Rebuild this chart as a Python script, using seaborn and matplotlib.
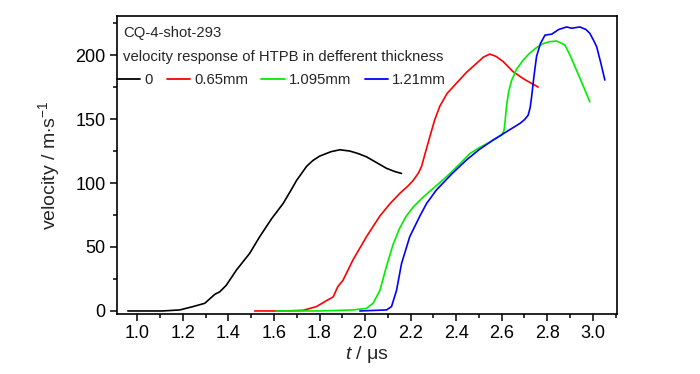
import numpy as np
import pandas as pd
import matplotlib
matplotlib.use("Agg")
import matplotlib.pyplot as plt
import seaborn as sns
from matplotlib.ticker import MultipleLocator

# ---- data ----
labels = ["0", "0.65mm", "1.095mm", "1.21mm"]
colors = ["#000000", "#ff0000", "#00ee00", "#0000ff"]

t_0 = [0.958, 1.11, 1.186, 1.244, 1.296, 1.34, 1.362, 1.39, 1.435, 1.493, 1.537,
       1.589, 1.64, 1.67, 1.699, 1.743, 1.77, 1.80, 1.85, 1.889, 1.933, 1.97,
       2.006, 2.05, 2.094, 2.13, 2.16]
v_0 = [0.0, 0.0, 0.8, 3.4, 6.0, 13.0, 15.0, 20.0, 32.0, 45.0, 58.0,
       72.0, 84.0, 93.0, 102.0, 113.0, 117.5, 121.0, 124.5, 126.0, 125.0, 123.0,
       120.5, 116.0, 111.5, 109.0, 107.5]

t_065 = [1.515, 1.65, 1.728, 1.786, 1.83, 1.86, 1.88, 1.903, 1.947, 2.006, 2.064,
         2.11, 2.153, 2.19, 2.211, 2.235, 2.248, 2.265, 2.284, 2.305, 2.328, 2.36,
         2.401, 2.445, 2.489, 2.52, 2.548, 2.575, 2.606, 2.65, 2.70, 2.76]
v_065 = [0.0, 0.0, 0.5, 3.4, 8.0, 11.0, 19.0, 24.0, 40.0, 58.0, 74.0,
         84.0, 92.0, 98.0, 102.0, 108.0, 113.0, 124.0, 136.0, 149.0, 160.0, 170.0,
         178.0, 186.5, 193.5, 198.5, 200.8, 199.0, 195.0, 187.0, 181.0, 175.0]

t_1095 = [1.61, 1.80, 1.947, 2.006, 2.035, 2.065, 2.094, 2.123, 2.15, 2.18, 2.215,
          2.255, 2.30, 2.358, 2.41, 2.46, 2.50, 2.548, 2.60, 2.61, 2.614, 2.621,
          2.63, 2.643, 2.665, 2.694, 2.72, 2.75, 2.782, 2.81, 2.841, 2.877, 2.90,
          2.929, 2.96, 2.987]
v_1095 = [0.0, 0.0, 0.8, 2.0, 6.0, 16.0, 35.0, 52.0, 64.0, 74.0, 82.0,
          89.0, 96.0, 105.0, 114.0, 123.0, 127.5, 132.0, 137.5, 141.0, 146.6, 160.0,
          171.0, 180.0, 189.0, 196.0, 201.0, 205.5, 209.0, 210.5, 211.0, 208.0, 200.0,
          188.0, 175.0, 163.5]

t_121 = [1.977, 2.094, 2.116, 2.138, 2.16, 2.196, 2.24, 2.27, 2.313, 2.38, 2.445,
         2.50, 2.562, 2.62, 2.68, 2.70, 2.716, 2.725, 2.731, 2.742, 2.753, 2.77,
         2.79, 2.82, 2.85, 2.885, 2.907, 2.943, 2.97, 2.987, 3.005, 3.017, 3.035,
         3.053]
v_121 = [0.0, 0.8, 3.4, 16.0, 37.0, 58.0, 74.0, 84.0, 94.5, 107.0, 118.0,
         126.0, 133.6, 140.0, 146.6, 149.5, 153.0, 159.0, 167.0, 184.0, 199.0, 209.0,
         215.6, 216.4, 220.0, 222.0, 221.0, 222.0, 220.0, 217.0, 211.0, 206.5, 194.0,
         180.5]

x_ticks = [1.0, 1.2, 1.4, 1.6, 1.8, 2.0, 2.2, 2.4, 2.6, 2.8, 3.0]
y_ticks = [0, 50, 100, 150, 200]

# ---- build long-form table ----
frames = []
for lab, t, v in zip(labels, [t_0, t_065, t_1095, t_121], [v_0, v_065, v_1095, v_121]):
    frames.append(pd.DataFrame({"t": t, "v": v, "thickness": lab}))
df = pd.concat(frames, ignore_index=True)

sns.set_style("ticks")
plt.rcParams["font.family"] = ["Liberation Sans", "DejaVu Sans"]
plt.rcParams["mathtext.fontset"] = "custom"
plt.rcParams["mathtext.rm"] = "Liberation Sans"
plt.rcParams["mathtext.it"] = "Liberation Sans:italic"

fig = plt.figure(figsize=(7.0, 3.74), dpi=100)
ax = fig.add_axes([0.167, 0.160, 0.714, 0.797])

sns.lineplot(data=df, x="t", y="v", hue="thickness", palette=colors,
             hue_order=labels, sort=False, estimator=None, linewidth=1.2,
             ax=ax, legend=False)
for ln in ax.lines:
    ln.set_solid_joinstyle("round")

ax.set_xlim(0.91, 3.105)
ax.set_ylim(-2.5, 230.5)
ax.set_xticks(x_ticks)
ax.set_xticklabels([f"{x:.1f}" for x in x_ticks])
ax.set_yticks(y_ticks)
ax.xaxis.set_minor_locator(MultipleLocator(0.1))
ax.yaxis.set_minor_locator(MultipleLocator(25))
ax.tick_params(axis="both", which="major", direction="out", length=5, width=1.1,
               labelsize=13, pad=3, color="black", labelcolor="black")
ax.tick_params(axis="both", which="minor", direction="out", length=3, width=1.1,
               color="black")
for s in ax.spines.values():
    s.set_linewidth(1.2)
    s.set_color("black")
    s.set_visible(True)

ax.set_xlabel(r"$\mathit{t}$ / $\mathrm{\mu}$s", fontsize=14, labelpad=1)
ax.set_ylabel(r"velocity / m$\cdot$s$^{-1}$", fontsize=14, labelpad=10)

ax.text(0.012, 0.943, "CQ-4-shot-293", transform=ax.transAxes, fontsize=10.7,
        va="center", ha="left")
ax.text(0.012, 0.863, "velocity response of HTPB in defferent thickness",
        transform=ax.transAxes, fontsize=10.7, va="center", ha="left")

handles = [plt.Line2D([], [], color=c, linewidth=1.3) for c in colors]
ax.legend(handles, labels, loc="upper left", bbox_to_anchor=(-0.005, 0.82),
          ncol=4, frameon=False, fontsize=10.7, handlelength=1.55,
          handletextpad=0.3, columnspacing=0.9, borderaxespad=0.0,
          borderpad=0.2)

fig.savefig("out.png", dpi=100)
